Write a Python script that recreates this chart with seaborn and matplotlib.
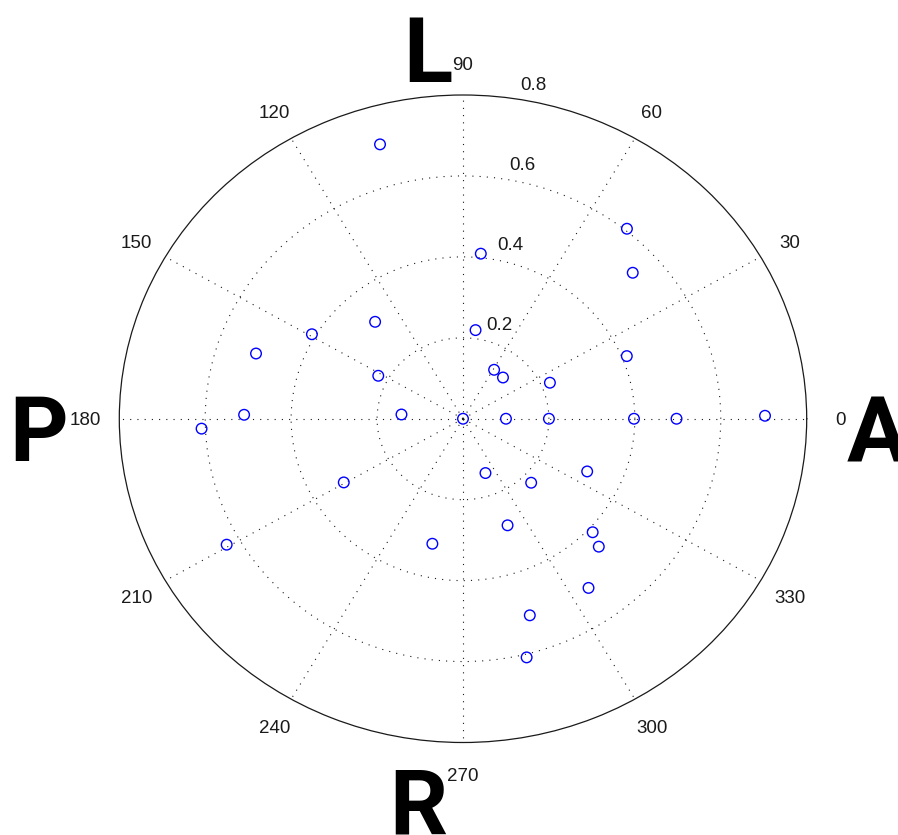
import numpy as np
import pandas as pd
import matplotlib
matplotlib.use("Agg")
import matplotlib.pyplot as plt
import seaborn as sns

# ---- data (angle in degrees, radius) ----
theta_deg = [105.9, 84.2, 50.9, 42.4, 82.4, 130.5, 149.3, 161.5, 151.7, 59.1,
             47.6, 23.75, 22.1, 175.8, 0.0, 0.0, 0.0, 0.0, 0.0, 0.6,
             178.9, 182.3, 209.55, 209.5, 291.3, 315.1, 335.75, 291.5, 257.0, 317.1,
             315.0, 304.95, 287.75, 284.1]
radius = [0.705, 0.410, 0.605, 0.535, 0.221, 0.315, 0.409, 0.508, 0.224, 0.141,
          0.138, 0.221, 0.4115, 0.1436, 0.0, 0.100, 0.200, 0.398, 0.497, 0.703,
          0.5096, 0.609, 0.319, 0.632, 0.144, 0.224, 0.317, 0.283, 0.317, 0.412,
          0.447, 0.510, 0.510, 0.608]

angle_ticks = list(range(0, 360, 30))
angle_labels = [str(a) for a in angle_ticks]
r_ticks = [0.2, 0.4, 0.6, 0.8]
r_labels = ["0.2", "0.4", "0.6", "0.8"]
side_letters = ["A", "L", "P", "R"]

df = pd.DataFrame({"theta": np.deg2rad(theta_deg), "r": radius})

sns.set_style("white")
plt.rcParams["font.family"] = ["Liberation Sans", "DejaVu Sans"]

W, H = 898, 835
fig = plt.figure(figsize=(W / 100, H / 100), dpi=100)
fig.patch.set_facecolor("white")

# axes box in pixels: x 119.3..806.7, y 95..742.5
ax = fig.add_axes([119.3 / W, 1 - 742.5 / H, 687.4 / W, 647.5 / H], projection="polar")
ax.set_aspect("auto")
ax.set_facecolor("white")

sns.scatterplot(data=df, x="theta", y="r", ax=ax, marker="o", s=58,
                color="blue", facecolor="none", edgecolor="blue", linewidth=1.0,
                zorder=5, clip_on=False)
ax.set_xlabel("")
ax.set_ylabel("")

ax.set_thetagrids(angle_ticks, labels=[""] * len(angle_ticks))
ax.set_rgrids(r_ticks[:-1], labels=[""] * (len(r_ticks) - 1))
ax.set_ylim(0, 0.8)
ax.grid(True, color="#1a1a1a", linewidth=0.8, linestyle=(0, (1, 5.5)))
ax.spines["polar"].set_color("#1a1a1a")
ax.spines["polar"].set_linewidth(0.9)

# angle labels
for a, lab in zip(angle_ticks, angle_labels):
    ax.text(np.deg2rad(a), 0.878, lab, ha="center", va="center_baseline",
            fontsize=13.5, color="#1a1a1a", clip_on=False)

# radial labels (left edge positions)
r_lab_theta = [77.3, 79.5, 80.2, 80.8]
r_lab_r = [0.2416, 0.4414, 0.639, 0.839]
for th, rr, lab in zip(r_lab_theta, r_lab_r, r_labels):
    ax.text(np.deg2rad(th), rr, lab, ha="left", va="center_baseline",
            fontsize=13.5, color="#1a1a1a", clip_on=False)

# big side letters (baseline positions in pixels)
big = dict(fontsize=65.5, fontweight="bold", color="black", va="baseline",
           family=["Roboto", "Liberation Sans"])
fig.text(847 / W, 1 - 462 / H, side_letters[0], ha="left", **big)
fig.text(403 / W, 1 - 81.7 / H, side_letters[1], ha="left", **big)
fig.text(9 / W, 1 - 460.7 / H, side_letters[2], ha="left", **big)
fig.text(389 / W, 1 - 835 / H, side_letters[3], ha="left", **big)

fig.savefig("out.png", dpi=100, facecolor="white")
